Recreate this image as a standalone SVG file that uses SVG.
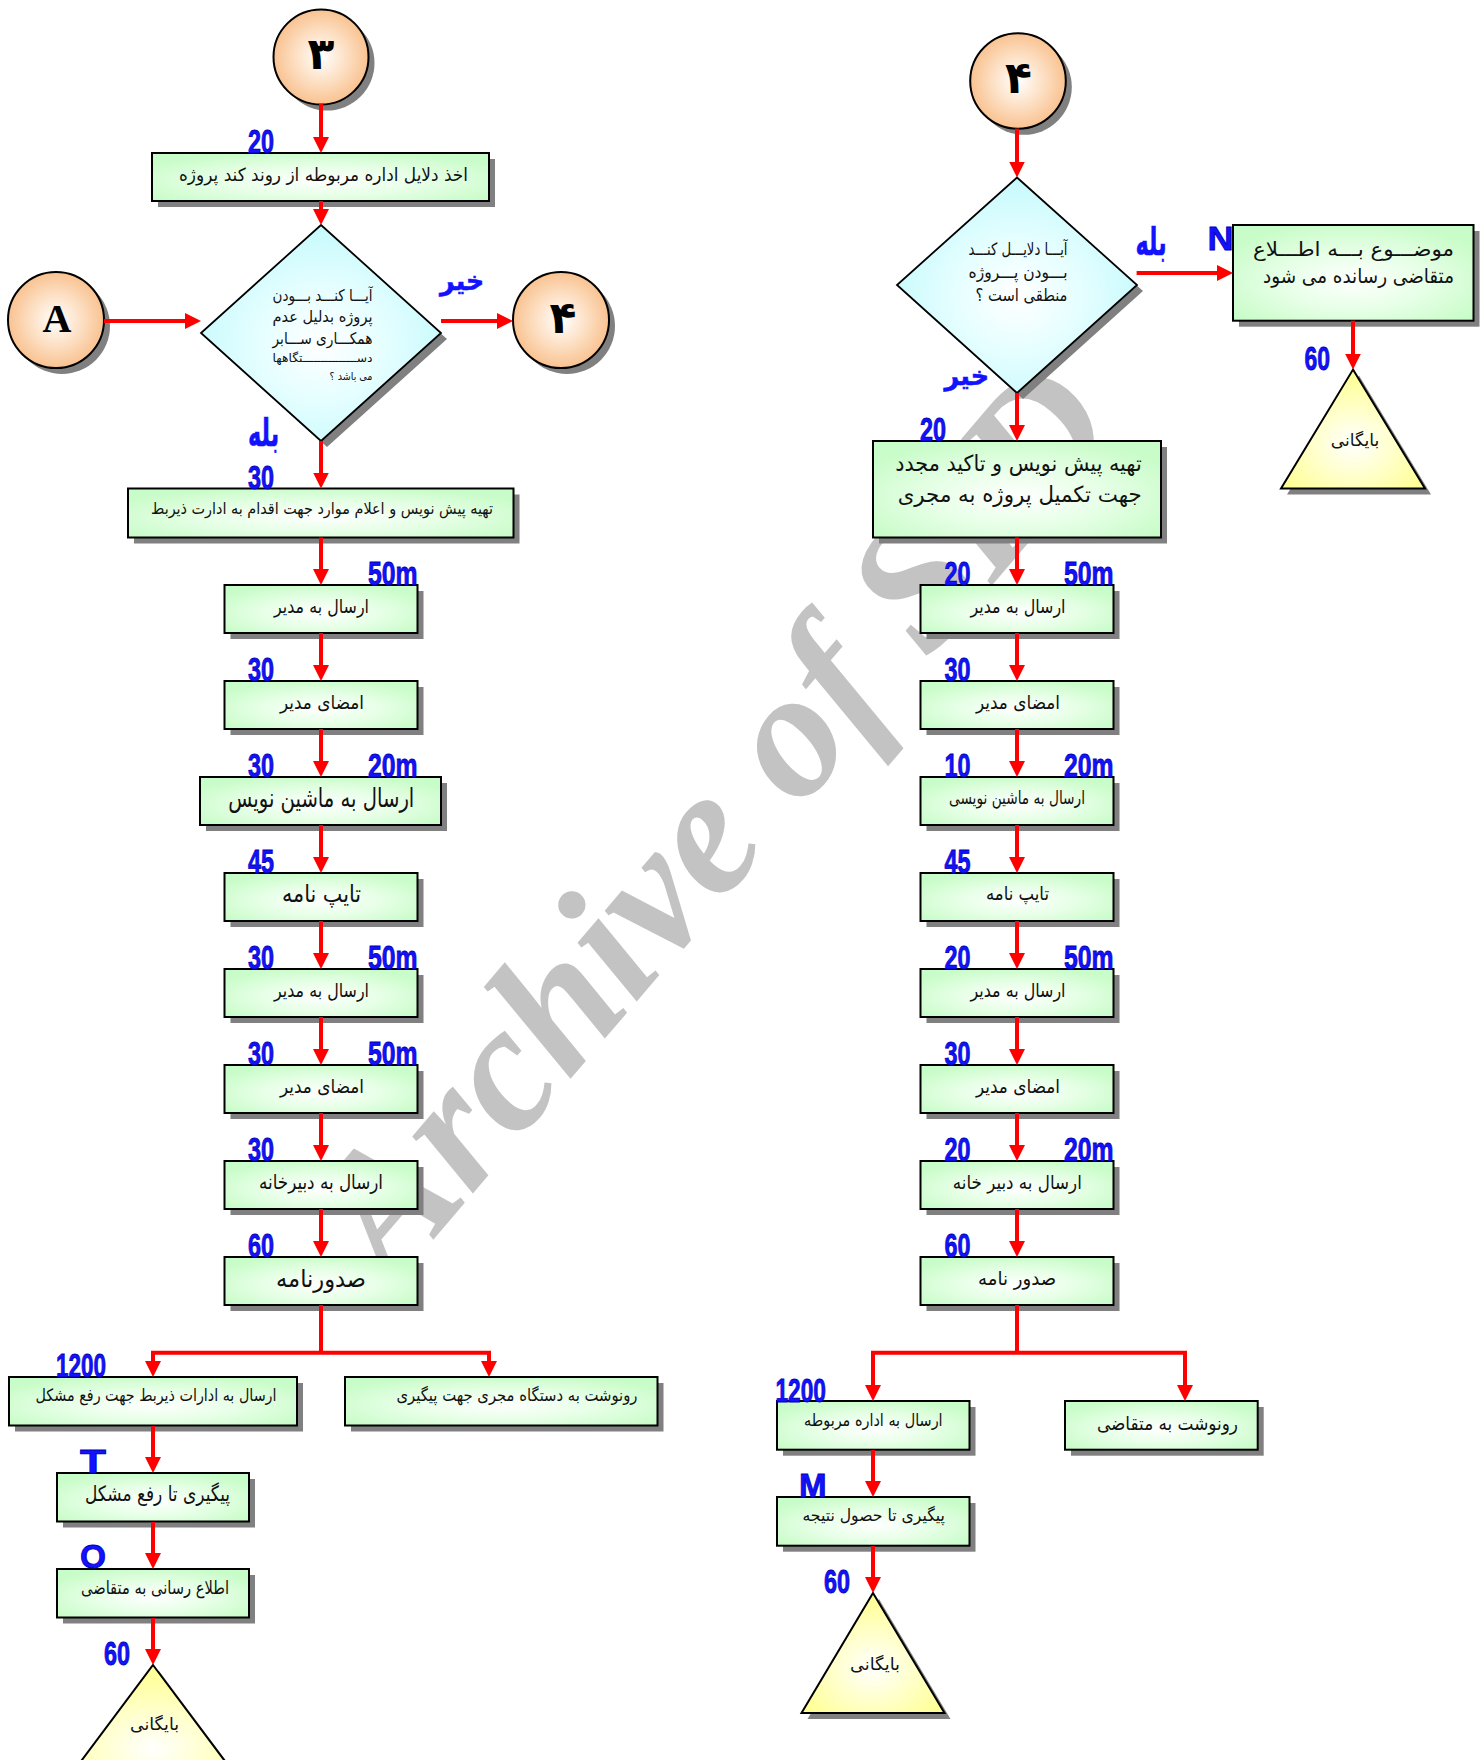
<svg xmlns="http://www.w3.org/2000/svg" width="1482" height="1760" viewBox="0 0 1482 1760">
<defs>
  <radialGradient id="gBox" cx="50%" cy="58%" r="62%">
    <stop offset="0" stop-color="#ffffff"/>
    <stop offset="0.5" stop-color="#e6ffe6"/>
    <stop offset="1" stop-color="#c8fcc8"/>
  </radialGradient>
  <radialGradient id="gCircle" cx="50%" cy="50%" r="55%">
    <stop offset="0" stop-color="#ffffff"/>
    <stop offset="0.45" stop-color="#fde2c8"/>
    <stop offset="1" stop-color="#f8bc86"/>
  </radialGradient>
  <radialGradient id="gDiamond" cx="50%" cy="55%" r="55%">
    <stop offset="0" stop-color="#ffffff"/>
    <stop offset="0.5" stop-color="#e4feff"/>
    <stop offset="1" stop-color="#c6fafc"/>
  </radialGradient>
  <radialGradient id="gTri" cx="50%" cy="62%" r="55%">
    <stop offset="0" stop-color="#ffffff"/>
    <stop offset="0.5" stop-color="#ffffcc"/>
    <stop offset="1" stop-color="#ffff99"/>
  </radialGradient>
  <marker id="arrow" markerWidth="16" markerHeight="16" refX="4" refY="8" orient="auto" markerUnits="userSpaceOnUse">
    <path d="M0,0 L16,8 L0,16 Z" fill="#ff0000"/>
  </marker>
</defs>
<style>
  .box{fill:url(#gBox);stroke:#000;stroke-width:2}
  .shadow{fill:#808080}
  .circ{fill:url(#gCircle);stroke:#000;stroke-width:2}
  .dia{fill:url(#gDiamond);stroke:#000;stroke-width:1.8}
  .tri{fill:url(#gTri);stroke:#000;stroke-width:2}
  .fa{font-family:'DejaVu Sans',sans-serif;fill:#111;text-anchor:middle;dominant-baseline:central}
  .far{font-family:'DejaVu Sans',sans-serif;fill:#111;text-anchor:end;dominant-baseline:central}
  .num{font-family:'DejaVu Sans',sans-serif;font-weight:bold;fill:#000;text-anchor:middle;dominant-baseline:central}
  .conn{stroke:#ff0000;stroke-width:4;fill:none;stroke-linejoin:miter}
  .arr{marker-end:url(#arrow)}
  .lbl{font-family:'Liberation Sans Narrow','Liberation Sans',Arial,sans-serif;font-weight:bold;font-size:34px;fill:#1212ff;stroke:#0000b4;stroke-width:0.8}
  .lblfa{font-family:'DejaVu Sans',sans-serif;font-weight:bold;fill:#1212ff;stroke:#1212ff;stroke-width:0.6}
  .wm{font-family:'Liberation Serif','Times New Roman',serif;font-weight:bold;font-style:italic;fill:#c3c3c3}
</style>

<!-- background watermark -->
<g id="watermark">
  <text class="wm" x="392" y="1288" font-size="181" transform="rotate(-49.5 392 1288)">Archive of SID</text>
</g>

<!-- ===== left flow ===== -->
<g id="L-start">
  <circle class="shadow" cx="327" cy="63" r="47.5"/>
  <circle class="circ" cx="321" cy="57" r="47.5"/>
  <text class="num" x="321" y="53" font-size="44">۳</text>
</g>
<g id="L-b1">
  <rect class="shadow" x="158" y="159" width="337" height="48"/>
  <rect class="box" x="152" y="153" width="337" height="48"/>
  <text class="fa" x="323.5" y="174" font-size="18" textLength="289" lengthAdjust="spacingAndGlyphs">اخذ دلایل اداره مربوطه از روند کند پروژه</text>
</g>
<g id="L-A">
  <circle class="shadow" cx="62" cy="326" r="48"/>
  <circle class="circ" cx="56" cy="320" r="48"/>
  <text x="57" y="318" font-family="'Liberation Serif','Times New Roman',serif" font-weight="bold" font-size="40" text-anchor="middle" dominant-baseline="central">A</text>
</g>
<g id="L-dec">
  <polygon class="shadow" points="327,231 447,339 327,447 207,339"/>
  <polygon class="dia" points="321,225 441,333 321,441 201,333"/>
  <text class="far" x="372.5" y="295" font-size="16" textLength="100" lengthAdjust="spacingAndGlyphs">آیـــا کنـــد بـــودن</text>
  <text class="far" x="372.5" y="316" font-size="16" textLength="100" lengthAdjust="spacingAndGlyphs">پروژه بدلیل عدم</text>
  <text class="far" x="372.5" y="338" font-size="16" textLength="100" lengthAdjust="spacingAndGlyphs">همکـــاری ســـابر</text>
  <text class="far" x="372.5" y="358" font-size="12" textLength="100" lengthAdjust="spacingAndGlyphs">دســـــــــــــــتگاهها</text>
  <text class="far" x="372.5" y="376" font-size="11" textLength="43" lengthAdjust="spacingAndGlyphs">می باشد ؟</text>
</g>
<g id="L-to4">
  <circle class="shadow" cx="567" cy="326" r="48"/>
  <circle class="circ" cx="561" cy="320" r="48"/>
  <text class="num" x="563" y="317" font-size="44">۴</text>
</g>
<g id="L-b2">
  <rect class="shadow" x="134" y="494.5" width="385.5" height="49"/>
  <rect class="box" x="128" y="488.5" width="385.5" height="49"/>
  <text class="fa" x="322" y="508" font-size="16" textLength="342" lengthAdjust="spacingAndGlyphs">تهیه پیش نویس و اعلام موارد جهت اقدام به ادارت ذیربط</text>
</g>
<g id="L-r1">
  <rect class="shadow" x="230.5" y="591" width="193" height="48"/>
  <rect class="box" x="224.5" y="585" width="193" height="48"/>
  <text class="fa" x="321.5" y="606" font-size="19" textLength="95" lengthAdjust="spacingAndGlyphs">ارسال به مدیر</text>
</g>
<g id="L-r2">
  <rect class="shadow" x="230.5" y="687" width="193" height="48"/>
  <rect class="box" x="224.5" y="681" width="193" height="48"/>
  <text class="fa" x="322" y="702" font-size="19" textLength="84" lengthAdjust="spacingAndGlyphs">امضای مدیر</text>
</g>
<g id="L-r3">
  <rect class="shadow" x="206" y="783" width="241" height="48"/>
  <rect class="box" x="200" y="777" width="241" height="48"/>
  <text class="fa" x="321.3" y="798" font-size="26" textLength="186" lengthAdjust="spacingAndGlyphs">ارسال به ماشین نویس</text>
</g>
<g id="L-r4">
  <rect class="shadow" x="230.5" y="879" width="193" height="48"/>
  <rect class="box" x="224.5" y="873" width="193" height="48"/>
  <text class="fa" x="321.5" y="894" font-size="24" textLength="79" lengthAdjust="spacingAndGlyphs">تایپ نامه</text>
</g>
<g id="L-r5">
  <rect class="shadow" x="230.5" y="975" width="193" height="48"/>
  <rect class="box" x="224.5" y="969" width="193" height="48"/>
  <text class="fa" x="321.5" y="990" font-size="19" textLength="95" lengthAdjust="spacingAndGlyphs">ارسال به مدیر</text>
</g>
<g id="L-r6">
  <rect class="shadow" x="230.5" y="1071" width="193" height="48"/>
  <rect class="box" x="224.5" y="1065" width="193" height="48"/>
  <text class="fa" x="322" y="1086" font-size="19" textLength="84" lengthAdjust="spacingAndGlyphs">امضای مدیر</text>
</g>
<g id="L-r7">
  <rect class="shadow" x="230.5" y="1167" width="193" height="48"/>
  <rect class="box" x="224.5" y="1161" width="193" height="48"/>
  <text class="fa" x="321" y="1182" font-size="20" textLength="124" lengthAdjust="spacingAndGlyphs">ارسال به دبیرخانه</text>
</g>
<g id="L-r8">
  <rect class="shadow" x="230.5" y="1263" width="193" height="48"/>
  <rect class="box" x="224.5" y="1257" width="193" height="48"/>
  <text class="fa" x="321" y="1279" font-size="24" textLength="90" lengthAdjust="spacingAndGlyphs">صدورنامه</text>
</g>
<g id="L-s1">
  <rect class="shadow" x="15" y="1383" width="288" height="48.5"/>
  <rect class="box" x="9" y="1377" width="288" height="48.5"/>
  <text class="fa" x="156" y="1395" font-size="17" textLength="241" lengthAdjust="spacingAndGlyphs">ارسال به ادارات ذیربط جهت رفع مشکل</text>
</g>
<g id="L-s2">
  <rect class="shadow" x="351" y="1383" width="312.5" height="48.5"/>
  <rect class="box" x="345" y="1377" width="312.5" height="48.5"/>
  <text class="fa" x="517" y="1395" font-size="17" textLength="241" lengthAdjust="spacingAndGlyphs">رونوشت به دستگاه مجری جهت پیگیری</text>
</g>
<g id="L-s3">
  <rect class="shadow" x="63" y="1479" width="192" height="48.5"/>
  <rect class="box" x="57" y="1473" width="192" height="48.5"/>
  <text class="fa" x="157.5" y="1494" font-size="21" textLength="145" lengthAdjust="spacingAndGlyphs">پیگیری تا رفع مشکل</text>
</g>
<g id="L-s4">
  <rect class="shadow" x="63" y="1575" width="192" height="48.5"/>
  <rect class="box" x="57" y="1569" width="192" height="48.5"/>
  <text class="fa" x="155" y="1587" font-size="18" textLength="148" lengthAdjust="spacingAndGlyphs">اطلاع رسانی به متقاضی</text>
</g>
<g id="L-archive">
  <polygon class="shadow" points="159,1671 260,1806 58,1806"/>
  <polygon class="tri" points="153,1665 254,1800 52,1800"/>
  <text class="fa" x="154.5" y="1724" font-size="17" textLength="49" lengthAdjust="spacingAndGlyphs">بایگانی</text>
</g>

<!-- ===== right flow ===== -->
<g id="R-start">
  <circle class="shadow" cx="1024" cy="87" r="47.8"/>
  <circle class="circ" cx="1018" cy="81" r="47.8"/>
  <text class="num" x="1018.5" y="77" font-size="44">۴</text>
</g>
<g id="R-dec">
  <polygon class="shadow" points="1023,183.5 1143,291 1023,399 903,291"/>
  <polygon class="dia" points="1017,177.5 1137,285 1017,393 897,285"/>
  <text class="far" x="1067.5" y="249" font-size="17" textLength="99" lengthAdjust="spacingAndGlyphs">آیـــا دلایـــل کنـــد</text>
  <text class="far" x="1067.5" y="272" font-size="17" textLength="99" lengthAdjust="spacingAndGlyphs">بـــودن پـــروژه</text>
  <text class="far" x="1067.5" y="295" font-size="17" textLength="92" lengthAdjust="spacingAndGlyphs">منطقی است ؟</text>
</g>
<g id="R-notify">
  <rect class="shadow" x="1239" y="231" width="240.5" height="95.7"/>
  <rect class="box" x="1233" y="225" width="240.5" height="95.7"/>
  <text class="far" x="1454" y="249" font-size="20" textLength="201" lengthAdjust="spacingAndGlyphs">موضـــوع بـــه اطـــلاع</text>
  <text class="far" x="1454" y="276" font-size="20" textLength="191" lengthAdjust="spacingAndGlyphs">متقاضی رسانده  می شود</text>
</g>
<g id="R-archive1">
  <polygon class="shadow" points="1359,375.6 1431,494.6 1287,494.6"/>
  <polygon class="tri" points="1353,369.6 1425,488.6 1281,488.6"/>
  <text class="fa" x="1355" y="440" font-size="17" textLength="48.5" lengthAdjust="spacingAndGlyphs">بایگانی</text>
</g>
<g id="R-b1">
  <rect class="shadow" x="879" y="447" width="288" height="96.5"/>
  <rect class="box" x="873" y="441" width="288" height="96.5"/>
  <text class="far" x="1141.7" y="463" font-size="22" textLength="246.5" lengthAdjust="spacingAndGlyphs">تهیه پیش نویس و تاکید مجدد</text>
  <text class="far" x="1141.7" y="494.5" font-size="22" textLength="244" lengthAdjust="spacingAndGlyphs">جهت تکمیل پروژه به مجری</text>
</g>
<g id="R-r1">
  <rect class="shadow" x="926.5" y="591" width="193" height="48"/>
  <rect class="box" x="920.5" y="585" width="193" height="48"/>
  <text class="fa" x="1018" y="606" font-size="19" textLength="95" lengthAdjust="spacingAndGlyphs">ارسال به مدیر</text>
</g>
<g id="R-r2">
  <rect class="shadow" x="926.5" y="687" width="193" height="48"/>
  <rect class="box" x="920.5" y="681" width="193" height="48"/>
  <text class="fa" x="1018" y="702" font-size="19" textLength="84" lengthAdjust="spacingAndGlyphs">امضای مدیر</text>
</g>
<g id="R-r3">
  <rect class="shadow" x="926.5" y="783" width="193" height="48"/>
  <rect class="box" x="920.5" y="777" width="193" height="48"/>
  <text class="fa" x="1017" y="797" font-size="18" textLength="136" lengthAdjust="spacingAndGlyphs">ارسال به ماشین نویسی</text>
</g>
<g id="R-r4">
  <rect class="shadow" x="926.5" y="879" width="193" height="48"/>
  <rect class="box" x="920.5" y="873" width="193" height="48"/>
  <text class="fa" x="1017.5" y="893" font-size="19" textLength="63" lengthAdjust="spacingAndGlyphs">تایپ نامه</text>
</g>
<g id="R-r5">
  <rect class="shadow" x="926.5" y="975" width="193" height="48"/>
  <rect class="box" x="920.5" y="969" width="193" height="48"/>
  <text class="fa" x="1018" y="990" font-size="19" textLength="95" lengthAdjust="spacingAndGlyphs">ارسال به مدیر</text>
</g>
<g id="R-r6">
  <rect class="shadow" x="926.5" y="1071" width="193" height="48"/>
  <rect class="box" x="920.5" y="1065" width="193" height="48"/>
  <text class="fa" x="1018" y="1086" font-size="19" textLength="84" lengthAdjust="spacingAndGlyphs">امضای مدیر</text>
</g>
<g id="R-r7">
  <rect class="shadow" x="926.5" y="1167" width="193" height="48"/>
  <rect class="box" x="920.5" y="1161" width="193" height="48"/>
  <text class="fa" x="1017.3" y="1182" font-size="19" textLength="129" lengthAdjust="spacingAndGlyphs">ارسال به دبیر خانه</text>
</g>
<g id="R-r8">
  <rect class="shadow" x="926.5" y="1263" width="193" height="48"/>
  <rect class="box" x="920.5" y="1257" width="193" height="48"/>
  <text class="fa" x="1017" y="1278" font-size="19" textLength="78" lengthAdjust="spacingAndGlyphs">صدور نامه</text>
</g>
<g id="R-s1">
  <rect class="shadow" x="783" y="1407" width="192.5" height="48.7"/>
  <rect class="box" x="777" y="1401" width="192.5" height="48.7"/>
  <text class="fa" x="873.3" y="1420" font-size="17" textLength="138.6" lengthAdjust="spacingAndGlyphs">ارسال به اداره مربوطه</text>
</g>
<g id="R-s2">
  <rect class="shadow" x="1071" y="1407" width="192.7" height="48.7"/>
  <rect class="box" x="1065" y="1401" width="192.7" height="48.7"/>
  <text class="fa" x="1167.5" y="1423" font-size="19" textLength="141" lengthAdjust="spacingAndGlyphs">رونوشت به متقاضی</text>
</g>
<g id="R-s3">
  <rect class="shadow" x="783" y="1503" width="192.5" height="48.7"/>
  <rect class="box" x="777" y="1497" width="192.5" height="48.7"/>
  <text class="fa" x="873.7" y="1515" font-size="17" textLength="142.5" lengthAdjust="spacingAndGlyphs">پیگیری تا حصول نتیجه</text>
</g>
<g id="R-archive2">
  <polygon class="shadow" points="879,1599 950.5,1719 807.5,1719"/>
  <polygon class="tri" points="873,1593 944.5,1713 801.5,1713"/>
  <text class="fa" x="875" y="1664" font-size="17" textLength="50" lengthAdjust="spacingAndGlyphs">بایگانی</text>
</g>

<!-- connectors -->
<g id="connectors">
  <path class="conn arr" d="M321,104 V141"/>
  <path class="conn arr" d="M321,201 V213"/>
  <path class="conn arr" d="M104,321 H189"/>
  <path class="conn arr" d="M441,321 H501"/>
  <path class="conn arr" d="M321,441 V476.5"/>
  <path class="conn arr" d="M321,537.5 V573"/>
  <path class="conn arr" d="M321,633 V669"/>
  <path class="conn arr" d="M321,729 V765"/>
  <path class="conn arr" d="M321,825 V861"/>
  <path class="conn arr" d="M321,921 V957"/>
  <path class="conn arr" d="M321,1017 V1053"/>
  <path class="conn arr" d="M321,1113 V1149"/>
  <path class="conn arr" d="M321,1209 V1245"/>
  <path class="conn" d="M321,1305 V1352.7"/>
  <path class="conn arr" d="M321,1352.7 H153 V1365"/>
  <path class="conn arr" d="M321,1352.7 H489 V1365"/>
  <path class="conn arr" d="M153,1426 V1461"/>
  <path class="conn arr" d="M153,1522 V1557"/>
  <path class="conn arr" d="M153,1618 V1653"/>

  <path class="conn arr" d="M1017,128.6 V165.5"/>
  <path class="conn arr" d="M1136.6,273 H1221"/>
  <path class="conn arr" d="M1353,320.7 V357.6"/>
  <path class="conn arr" d="M1017,393 V429"/>
  <path class="conn arr" d="M1017,537.5 V573"/>
  <path class="conn arr" d="M1017,633 V669"/>
  <path class="conn arr" d="M1017,729 V765"/>
  <path class="conn arr" d="M1017,825 V861"/>
  <path class="conn arr" d="M1017,921 V957"/>
  <path class="conn arr" d="M1017,1017 V1053"/>
  <path class="conn arr" d="M1017,1113 V1149"/>
  <path class="conn arr" d="M1017,1209 V1245"/>
  <path class="conn" d="M1017,1305 V1352.7"/>
  <path class="conn arr" d="M1017,1352.7 H873 V1389"/>
  <path class="conn arr" d="M1017,1352.7 H1185 V1389"/>
  <path class="conn arr" d="M873,1450 V1485"/>
  <path class="conn arr" d="M873,1546 V1581"/>
</g>

<!-- connector labels -->
<g id="labels">
  <text class="lbl" x="248" y="153" textLength="26" lengthAdjust="spacingAndGlyphs">20</text>
  <text class="lblfa" x="279" y="446" font-size="38" text-anchor="end" textLength="31" lengthAdjust="spacingAndGlyphs">بله</text>
  <text class="lbl" x="248" y="489" textLength="26" lengthAdjust="spacingAndGlyphs">30</text>
  <text class="lblfa" x="484" y="290" font-size="27" text-anchor="end" textLength="44" lengthAdjust="spacingAndGlyphs">خیر</text>

  <text class="lbl" x="368" y="585" textLength="49.5" lengthAdjust="spacingAndGlyphs">50m</text>
  <text class="lbl" x="248" y="681" textLength="26" lengthAdjust="spacingAndGlyphs">30</text>
  <text class="lbl" x="248" y="777" textLength="26" lengthAdjust="spacingAndGlyphs">30</text>
  <text class="lbl" x="368" y="777" textLength="49.5" lengthAdjust="spacingAndGlyphs">20m</text>
  <text class="lbl" x="248" y="873" textLength="26" lengthAdjust="spacingAndGlyphs">45</text>
  <text class="lbl" x="248" y="969" textLength="26" lengthAdjust="spacingAndGlyphs">30</text>
  <text class="lbl" x="368" y="969" textLength="49.5" lengthAdjust="spacingAndGlyphs">50m</text>
  <text class="lbl" x="248" y="1065" textLength="26" lengthAdjust="spacingAndGlyphs">30</text>
  <text class="lbl" x="368" y="1065" textLength="49.5" lengthAdjust="spacingAndGlyphs">50m</text>
  <text class="lbl" x="248" y="1161" textLength="26" lengthAdjust="spacingAndGlyphs">30</text>
  <text class="lbl" x="248" y="1257" textLength="26" lengthAdjust="spacingAndGlyphs">60</text>

  <text class="lbl" x="56" y="1377" textLength="50" lengthAdjust="spacingAndGlyphs">1200</text>
  <text class="lbl" x="80" y="1473" textLength="26" lengthAdjust="spacingAndGlyphs">T</text>
  <text class="lbl" x="80" y="1568" textLength="26" lengthAdjust="spacingAndGlyphs">O</text>
  <text class="lbl" x="104" y="1665" textLength="26" lengthAdjust="spacingAndGlyphs">60</text>

  <text class="lblfa" x="1166.5" y="255" font-size="38" text-anchor="end" textLength="31" lengthAdjust="spacingAndGlyphs">بله</text>
  <text class="lbl" x="1207.5" y="250" textLength="26" lengthAdjust="spacingAndGlyphs">N</text>
  <text class="lbl" x="1304.6" y="369.6" textLength="25.5" lengthAdjust="spacingAndGlyphs">60</text>
  <text class="lblfa" x="989" y="385" font-size="27" text-anchor="end" textLength="44.5" lengthAdjust="spacingAndGlyphs">خیر</text>
  <text class="lbl" x="920" y="441" textLength="26" lengthAdjust="spacingAndGlyphs">20</text>

  <text class="lbl" x="944.5" y="585" textLength="26" lengthAdjust="spacingAndGlyphs">20</text>
  <text class="lbl" x="1064" y="585" textLength="49.5" lengthAdjust="spacingAndGlyphs">50m</text>
  <text class="lbl" x="944.5" y="681" textLength="26" lengthAdjust="spacingAndGlyphs">30</text>
  <text class="lbl" x="944.5" y="777" textLength="26" lengthAdjust="spacingAndGlyphs">10</text>
  <text class="lbl" x="1064" y="777" textLength="49.5" lengthAdjust="spacingAndGlyphs">20m</text>
  <text class="lbl" x="944.5" y="873" textLength="26" lengthAdjust="spacingAndGlyphs">45</text>
  <text class="lbl" x="944.5" y="969" textLength="26" lengthAdjust="spacingAndGlyphs">20</text>
  <text class="lbl" x="1064" y="969" textLength="49.5" lengthAdjust="spacingAndGlyphs">50m</text>
  <text class="lbl" x="944.5" y="1065" textLength="26" lengthAdjust="spacingAndGlyphs">30</text>
  <text class="lbl" x="944.5" y="1161" textLength="26" lengthAdjust="spacingAndGlyphs">20</text>
  <text class="lbl" x="1064" y="1161" textLength="49.5" lengthAdjust="spacingAndGlyphs">20m</text>
  <text class="lbl" x="944.5" y="1257" textLength="26" lengthAdjust="spacingAndGlyphs">60</text>

  <text class="lbl" x="775.5" y="1401.7" textLength="50.5" lengthAdjust="spacingAndGlyphs">1200</text>
  <text class="lbl" x="799" y="1497" textLength="27.6" lengthAdjust="spacingAndGlyphs">M</text>
  <text class="lbl" x="824" y="1593" textLength="26" lengthAdjust="spacingAndGlyphs">60</text>
</g>
</svg>
